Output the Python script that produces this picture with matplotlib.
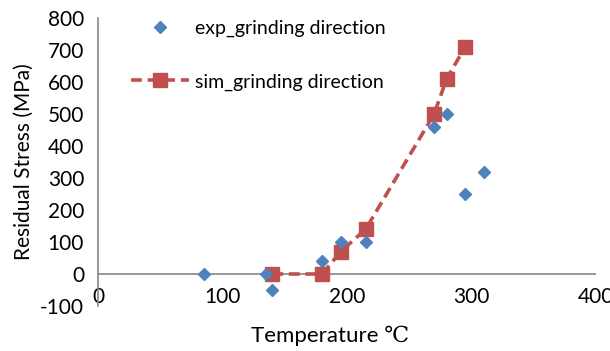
import matplotlib
matplotlib.use("Agg")
import matplotlib.pyplot as plt
from matplotlib.lines import Line2D

exp_temp = [85, 135, 140, 180, 195, 215, 270, 280, 295, 310]
exp_stress = [0, 0, -50, 40, 100, 100, 460, 500, 250, 320]
sim_temp = [140, 180, 195, 215, 270, 280, 295]
sim_stress = [0, 0, 70, 140, 500, 610, 710]
x_ticks = [0, 100, 200, 300, 400]
y_ticks = [-100, 0, 100, 200, 300, 400, 500, 600, 700, 800]

plt.rcParams['font.family'] = ['Lato', 'DejaVu Serif']
plt.rcParams['axes.unicode_minus'] = False
blue = '#4F81BD'
red = '#C0504D'
gray = '#868686'

fig = plt.figure(figsize=(6.1, 3.51), dpi=100)
ax = fig.add_axes([98/610, 1-306/351, (596-98)/610, (306-18)/351])

ax.plot(sim_temp, sim_stress, color=red, ls=(0, (3, 1.6)), lw=2.6,
        marker='s', ms=10, mfc=red, mec=red, zorder=3)
ax.plot(exp_temp, exp_stress, ls='none', marker='D', ms=6.5,
        color=blue, mec=blue, zorder=4)

ax.set_xlim(0, 400)
ax.set_ylim(-100, 800)
ax.set_xticks(x_ticks)
ax.set_yticks(y_ticks)
ax.axhline(0, color=gray, lw=1.2, zorder=1)
for s in ['top', 'right', 'bottom']:
    ax.spines[s].set_visible(False)
ax.spines['left'].set_color(gray)
ax.spines['left'].set_linewidth(1.2)
ax.tick_params(axis='both', length=0, labelsize=15)
ax.tick_params(axis='x', pad=-14)
ax.tick_params(axis='y', pad=10)
for lbl in ax.get_xticklabels():
    lbl.set_clip_on(False)

ax.set_ylabel('Residual Stress (MPa)', fontsize=15)
ax.yaxis.set_label_coords(-0.128, 0.5)
ax.set_xlabel('Temperature \u2103', fontsize=16)
ax.xaxis.set_label_coords(0.465, -0.07)

h1 = Line2D([], [], ls='none', marker='D', ms=6.5, color=blue, mec=blue)
h2 = Line2D([], [], color=red, ls=(0, (3, 1.6)), lw=2.6, marker='s', ms=10)
leg = ax.legend([h1, h2], ['exp_grinding direction', 'sim_grinding direction'],
                loc='upper left', bbox_to_anchor=(0.05, 1.02), frameon=False,
                fontsize=14, handlelength=3.0, labelspacing=1.85,
                handletextpad=0.3, borderaxespad=0)

fig.savefig('out.png', dpi=100)
